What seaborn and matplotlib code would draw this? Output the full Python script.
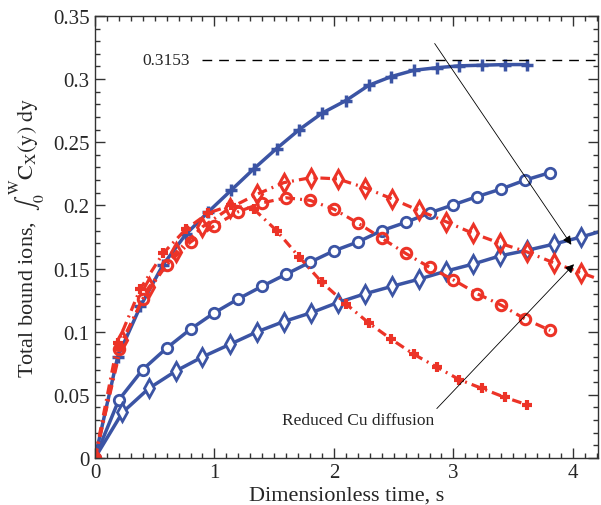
import numpy as np
import pandas as pd
import matplotlib
matplotlib.use("Agg")
import matplotlib.pyplot as plt
import seaborn as sns

sns.set_style("ticks")
plt.rcParams["font.family"] = ["Liberation Serif", "DejaVu Serif"]
plt.rcParams["mathtext.fontset"] = "stix"

blue = "#3b54a4"
red = "#ec3327"

# time points of each marker family
t_plus = [0, 0.19, 0.38, 0.57, 0.76, 0.95, 1.14, 1.33, 1.52, 1.71,
          1.90, 2.10, 2.29, 2.48, 2.67, 2.86, 3.05, 3.24, 3.43, 3.62]
t_circ = [0, 0.2, 0.4, 0.6, 0.8, 1.0, 1.2, 1.4, 1.6, 1.8,
          2.0, 2.2, 2.4, 2.6, 2.8, 3.0, 3.2, 3.4, 3.6, 3.81]
t_diam = [0, 0.23, 0.45, 0.68, 0.90, 1.13, 1.36, 1.58, 1.81, 2.03,
          2.26, 2.49, 2.71, 2.94, 3.16, 3.39, 3.62, 3.84, 4.07, 4.29]

# blue solid curves
blue_plus = [0, 0.080, 0.120, 0.153, 0.177, 0.195, 0.212, 0.229, 0.245, 0.260,
             0.273, 0.283, 0.295, 0.302, 0.307, 0.309, 0.3105, 0.311, 0.3115, 0.3115]
blue_circ = [0, 0.046, 0.070, 0.087, 0.102, 0.115, 0.126, 0.136, 0.1455, 0.155,
             0.164, 0.171, 0.180, 0.1865, 0.194, 0.2005, 0.207, 0.213, 0.220, 0.226]
blue_diam = [0, 0.036, 0.055, 0.069, 0.080, 0.090, 0.100, 0.108, 0.115, 0.123,
             0.130, 0.136, 0.1415, 0.148, 0.1534, 0.160, 0.1645, 0.1693, 0.175, 0.181]

# red dash-dot curves
red_plus = [0, 0.091, 0.134, 0.162, 0.181, 0.194, 0.200, 0.197, 0.180, 0.159,
            0.139, 0.122, 0.107, 0.094, 0.082, 0.072, 0.062, 0.055, 0.048, 0.042]
red_circ = [0, 0.086, 0.126, 0.153, 0.171, 0.184, 0.195, 0.202, 0.206, 0.204,
            0.197, 0.186, 0.174, 0.162, 0.151, 0.141, 0.130, 0.121, 0.110, 0.101]
red_diam = [0, 0.093, 0.135, 0.163, 0.183, 0.198, 0.209, 0.218, 0.222, 0.221,
            0.214, 0.205, 0.196, 0.187, 0.178, 0.170, 0.163, 0.1545, 0.1466, 0.139]

plateau = 0.3153

fig = plt.figure(figsize=(6.01, 5.06), dpi=100)
ax = fig.add_axes([0.158, 0.093, 0.837, 0.8735])

dashdot = (0, (3, 1.6, 0.6, 1.6))
series = [
    (t_plus, blue_plus, blue, "-", 2.5, "+", dict(markersize=9, markeredgewidth=2.5)),
    (t_circ, blue_circ, blue, "-", 2.5, "o", dict(markersize=7.5, markeredgewidth=2, markerfacecolor="white")),
    (t_diam, blue_diam, blue, "-", 2.5, "d", dict(markersize=9, markeredgewidth=2, markerfacecolor="white")),
    (t_plus, red_plus, red, dashdot, 2.3, "+", dict(markersize=7.5, markeredgewidth=3)),
    (t_circ, red_circ, red, dashdot, 2.3, "o", dict(markersize=7.5, markeredgewidth=2.2, markerfacecolor="none")),
    (t_diam, red_diam, red, dashdot, 2.3, "d", dict(markersize=9, markeredgewidth=2.2, markerfacecolor="none")),
]
for t, v, c, ls, w, m, mk in series:
    df = pd.DataFrame({"t": t, "v": v})
    sns.lineplot(data=df, x="t", y="v", ax=ax, color=c, linestyle=ls, lw=w,
                 marker=m, markeredgecolor=c, **mk)

ax.plot([0.90, 4.3], [plateau, plateau], color="black", lw=1, ls=(0, (7, 5)))
ax.text(0.40, plateau, "0.3153", fontsize=12.5, va="center", ha="left")

ax.annotate("", xy=(4.0, 0.167), xytext=(2.83, 0.330),
            arrowprops=dict(arrowstyle="-|>", color="black", lw=0.6, mutation_scale=13))
ax.annotate("", xy=(4.025, 0.155), xytext=(2.845, 0.0375),
            arrowprops=dict(arrowstyle="-|>", color="black", lw=0.6, mutation_scale=13))
ax.text(1.565, 0.030, "Reduced Cu diffusion", fontsize=12.5, va="center", ha="left")

ax.set_xlim(0, 4.21)
ax.set_ylim(0, 0.35)
ax.set_xticks([0, 1, 2, 3, 4])
ax.set_xticklabels(["0", "1", "2", "3", "4"])
ax.set_yticks([0, 0.05, 0.1, 0.15, 0.2, 0.25, 0.3, 0.35])
ax.set_yticklabels(["0", "0.05", "0.1", "0.15", "0.2", "0.25", "0.3", "0.35"])
ax.set_xticks(np.arange(0, 4.21, 0.1), minor=True)
ax.set_yticks(np.arange(0, 0.351, 0.01), minor=True)
ax.tick_params(which="both", direction="in", top=True, right=True, labelsize=15, width=1, color="#333333")
ax.tick_params(which="major", length=7, pad=4)
ax.tick_params(which="minor", length=3.5)
for s in ax.spines.values():
    s.set_linewidth(1)
    s.set_color("#333333")

ax.set_xlabel("Dimensionless time, s", fontsize=16, labelpad=2)
ax.set_ylabel(r"Total bound ions,  $\int_0^{\mathrm{W}}\mathrm{C}_{\mathrm{X}}(\mathrm{y})\ \mathrm{dy}$",
              fontsize=16, labelpad=4)

fig.savefig("out.png", dpi=100)
